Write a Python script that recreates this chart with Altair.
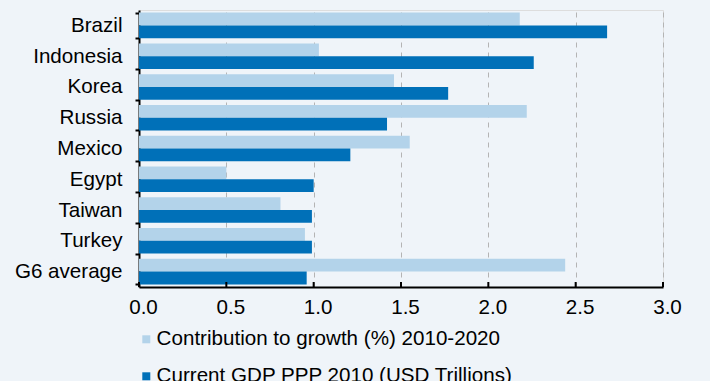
import altair as alt
import pandas as pd

countries = ["Brazil", "Indonesia", "Korea", "Russia", "Mexico", "Egypt", "Taiwan", "Turkey", "G6 average"]
contribution = [2.18, 1.03, 1.46, 2.22, 1.55, 0.50, 0.81, 0.95, 2.44]
gdp_ppp = [2.68, 2.26, 1.77, 1.42, 1.21, 1.00, 0.99, 0.99, 0.96]
series_names = ["Contribution to growth (%) 2010-2020", "Current GDP PPP 2010 (USD Trillions)"]
series_colors = ["#b3d3ea", "#0070b8"]
x_ticks = [0.0, 0.5, 1.0, 1.5, 2.0, 2.5, 3.0]

rows = []
for c, a, b in zip(countries, contribution, gdp_ppp):
    rows.append({"country": c, "series": series_names[0], "value": a})
    rows.append({"country": c, "series": series_names[1], "value": b})
df = pd.DataFrame(rows)

x_scale = alt.Scale(domain=[0, 3], nice=False)
FS = 20.6

bars = alt.Chart(df).mark_bar(cornerRadius=0).encode(
    y=alt.Y("country:N", sort=countries,
            scale=alt.Scale(paddingInner=0.17, paddingOuter=0.085),
            axis=alt.Axis(title=None, tickBand="extent", tickSize=4, tickWidth=2,
                          tickColor="black", domainColor="black", domainWidth=2,
                          labelFontSize=FS, labelPadding=13, labelColor="black",
                          grid=False)),
    yOffset=alt.YOffset("series:N", sort=series_names,
                        scale=alt.Scale(domain=series_names, paddingInner=0, paddingOuter=0)),
    x=alt.X("value:Q", scale=x_scale,
            axis=alt.Axis(values=x_ticks, format=".1f", title=None, grid=True,
                          gridDash=[5, 5], gridColor="#b4b4b4", gridWidth=1,
                          ticks=False, domainColor="black", domainWidth=2,
                          labelFontSize=FS, labelPadding=10, labelColor="black",
                          labelFlush=False, labelOffset=4, labelOverlap=False)),
    color=alt.Color("series:N",
                    scale=alt.Scale(domain=series_names, range=series_colors),
                    legend=alt.Legend(title=None, orient="none", legendX=-3, legendY=319,
                                      direction="vertical", symbolType="square",
                                      symbolSize=64, symbolStrokeWidth=0,
                                      labelFontSize=FS, labelOffset=0, rowPadding=16,
                                      labelColor="black", padding=0, labelLimit=600)),
)

tick_df = pd.DataFrame({"t": x_ticks})
xticks = alt.Chart(tick_df).mark_rule(color="black", strokeWidth=2).encode(
    x=alt.X("t:Q", scale=x_scale),
    y=alt.value(272),
    y2=alt.value(277),
)

chart = alt.layer(bars, xticks).properties(
    width=524,
    height=277,
    autosize=alt.AutoSizeParams(type="none"),
    padding={"left": 139, "top": 10, "right": 47, "bottom": 94},
    background="#eff4f9",
).configure_view(stroke=None).configure(font="Liberation Sans")

chart.save("out.html", embed_options={"renderer": "svg", "actions": False})
